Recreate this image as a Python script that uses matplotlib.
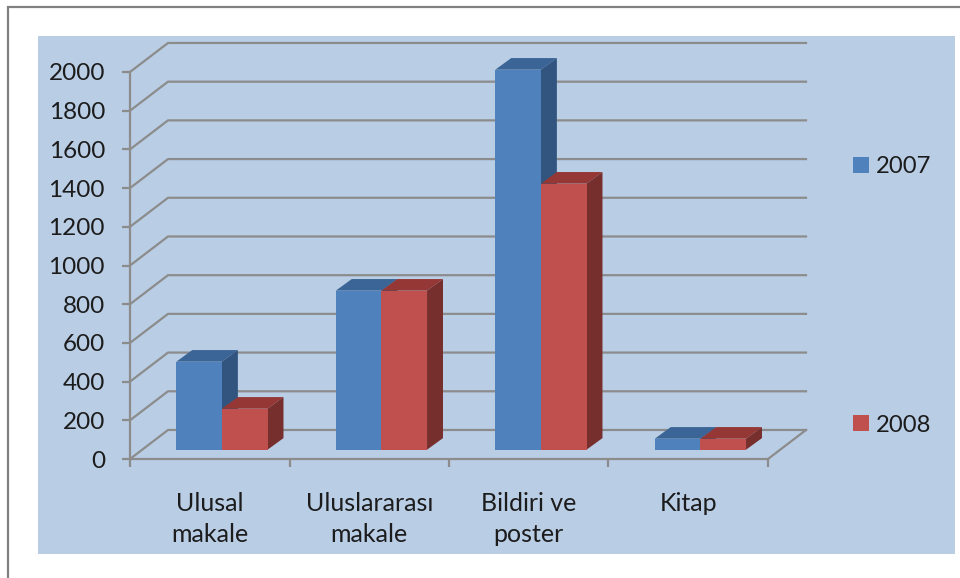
import matplotlib
matplotlib.use("Agg")
import matplotlib.pyplot as plt
from matplotlib.patches import Polygon, Rectangle
import numpy as np

plt.rcParams["font.family"] = ["Lato", "DejaVu Sans"]

categories = ["Ulusal\nmakale", "Uluslararası\nmakale", "Bildiri ve\nposter", "Kitap"]
series_names = ["2007", "2008"]
values_2007 = [455, 822, 1964, 57]
values_2008 = [212, 822, 1375, 57]
y_ticks = list(range(0, 2001, 200))

W, H = 960, 578
GRID = "#8c8c8c"
GRID_LW = 1.6
TEXT = "#1c1c1c"
BLUE = ("#4f81bd", "#3b6596", "#31557f")
RED = ("#c0504d", "#953735", "#772f2d")

# depth of the fake 3d floor, in data units
DEPTH_X = 38 / 159.5
DEPTH_Y = 150
BAR_W = 0.286


def draw_bar(ax, left, value, colors):
    # bars stand a bit in from the front edge of the floor
    x0 = left + 0.32 * DEPTH_X
    y0 = 0.32 * DEPTH_Y
    x1 = x0 + BAR_W
    y1 = y0 + value
    dx = 0.42 * DEPTH_X
    dy = 0.4 * DEPTH_Y
    front = [(x0, y0), (x1, y0), (x1, y1), (x0, y1)]
    top = [(x0, y1), (x1, y1), (x1 + dx, y1 + dy), (x0 + dx, y1 + dy)]
    side = [(x1, y0), (x1 + dx, y0 + dy), (x1 + dx, y1 + dy), (x1, y1)]
    for pts, col in zip((top, side, front), colors[1:] + colors[:1]):
        ax.add_patch(Polygon(pts, closed=True, facecolor=col, edgecolor="none",
                             clip_on=False, zorder=3))


fig = plt.figure(figsize=(W / 100, H / 100), dpi=100, facecolor="white")

# outer frame and chart panel, kept behind the axes
fig.add_artist(Rectangle((7.5 / W, -0.01), 1.1, 1 - 6.5 / H + 0.01, transform=fig.transFigure,
                         facecolor="white", edgecolor="#808080", lw=1.6, zorder=-2))
fig.add_artist(Rectangle((38 / W, 1 - 554 / H), 917 / W, 518 / H, transform=fig.transFigure,
                         facecolor="#b9cde5", edgecolor="none", zorder=-1))

ax = fig.add_axes([130 / W, 1 - 459 / H, 638 / W, 387 / H])
ax.patch.set_visible(False)
ax.set_xlim(0, len(categories))
ax.set_ylim(0, 2000)
for name in ("top", "right"):
    ax.spines[name].set_visible(False)
for name in ("left", "bottom"):
    ax.spines[name].set_color(GRID)
    ax.spines[name].set_linewidth(GRID_LW)

# wall and floor lines
n = len(categories)
for v in y_ticks:
    ax.plot([0, DEPTH_X, n + DEPTH_X], [v, v + DEPTH_Y, v + DEPTH_Y],
            color=GRID, lw=GRID_LW, clip_on=False, zorder=1)
ax.plot([n, n + DEPTH_X], [0, DEPTH_Y], color=GRID, lw=GRID_LW, clip_on=False, zorder=1)

ax.set_yticks(y_ticks)
ax.set_yticklabels([str(v) for v in y_ticks])
ax.set_xticks(np.arange(n + 1))
ax.set_xticklabels([])
ax.set_xticks(np.arange(n) + 0.5, minor=True)
ax.set_xticklabels(categories, minor=True, linespacing=1.4)
ax.tick_params(axis="y", length=6, width=GRID_LW, color=GRID, labelsize=17.5, labelcolor=TEXT, pad=12)
ax.tick_params(axis="x", which="major", length=6, width=GRID_LW, color=GRID)
ax.tick_params(axis="x", which="minor", length=0, labelsize=18, labelcolor=TEXT, pad=24)

for i in range(n):
    left = i + (1 - 2 * BAR_W) / 2
    draw_bar(ax, left, values_2007[i], BLUE)
    draw_bar(ax, left + BAR_W, values_2008[i], RED)

handles = [Rectangle((0, 0), 1, 1, facecolor=BLUE[0]), Rectangle((0, 0), 1, 1, facecolor=RED[0])]
fig.legend(handles, series_names, loc="upper left", bbox_to_anchor=(853 / W, 1 - 156 / H),
           frameon=False, fontsize=17.2, labelcolor=TEXT, borderpad=0, borderaxespad=0,
           handlelength=0.65, handleheight=0.65, handletextpad=0.32, labelspacing=9.95)

fig.savefig("out.png", dpi=100)
